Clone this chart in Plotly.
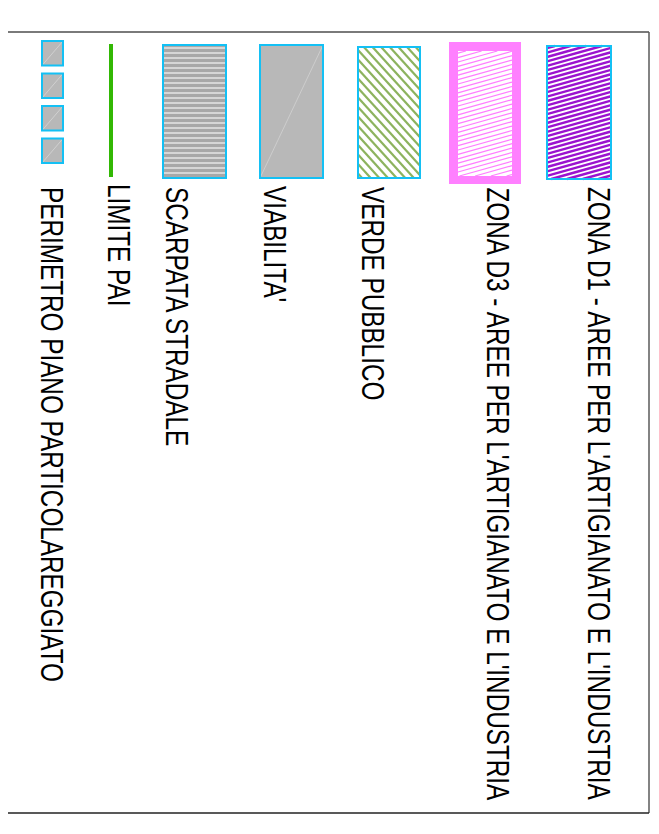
import plotly.graph_objects as go

# ---------------- data ----------------
labels = [
    "ZONA D1 - AREE PER L'ARTIGIANATO E L'INDUSTRIA",
    "ZONA D3 - AREE PER L'ARTIGIANATO E L'INDUSTRIA",
    "VERDE PUBBLICO",
    "VIABILITA'",
    "SCARPATA STRADALE",
    "LIMITE PAI",
    "PERIMETRO PIANO PARTICOLAREGGIATO",
]
kinds = ["hatch_purple", "hatch_pink", "hatch_green", "solid_gray",
         "dash_gray", "line_green", "squares"]

# ---------------- layout (page pixel space) ----------------
# the page body has an 8px margin, so the figure covers page pixels 8..651 x 8..826
OFF = 8
FW, FH = 643, 818
boxes = [  # swatch extents x0, x1, y0, y1
    (547, 611, 46, 179),
    (449, 521, 42, 184),
    (358, 420, 47, 178),
    (260, 323, 45, 178),
    (163, 226, 45, 178),
    (111, 111, 44, 177),
    (42, 63, 41, 163),
]
text_x = [599, 498.5, 372.5, 275, 176.5, 119, 51.5]
text_y = [185, 185, 185, 184, 185, 182, 185]
TEXT_STRETCH = 1.28  # glyphs in the reference are tall and narrow

CYAN = "#14c0f4"
GRAY = "#b8b8b8"

fig = go.Figure()
shapes = []


def hatch(x0, x1, y0, y1, m, step):
    xs, ys = [], []
    cs = [y - m * x for x in (x0, x1) for y in (y0, y1)]
    c, cmax = min(cs) + step / 2, max(cs)
    while c < cmax:
        a, b = x0, x1
        if m != 0:
            xa, xb = sorted(((y0 - c) / m, (y1 - c) / m))
            a, b = max(a, xa), min(b, xb)
        if b > a:
            xs += [a, b, None]
            ys += [m * a + c, m * b + c, None]
        c += step
    return xs, ys


def rect(x0, x1, y0, y1, fill=None, line=None, lw=0, layer="below"):
    shapes.append(dict(type="rect", xref="x", yref="y", x0=x0, x1=x1, y0=y0, y1=y1,
                       fillcolor=fill or "rgba(0,0,0,0)",
                       line=dict(color=line or "rgba(0,0,0,0)", width=lw),
                       layer=layer))


def add_lines(xs, ys, color, width):
    fig.add_trace(go.Scatter(x=xs, y=ys, mode="lines", hoverinfo="skip",
                             line=dict(color=color, width=width), showlegend=False))


for (x0, x1, y0, y1), kind in zip(boxes, kinds):
    if kind == "hatch_purple":
        rect(x0, x1, y0, y1, fill="white")
        xs, ys = hatch(x0, x1, y0, y1, -0.28, 4.4)
        add_lines(xs, ys, "#9b13cf", 2.4)
        rect(x0, x1, y0, y1, line=CYAN, lw=2, layer="above")
    elif kind == "hatch_pink":
        rect(x0, x1, y0, y1, fill="#ff80ff")
        ix0, ix1, iy0, iy1 = x0 + 9, x1 - 9, y0 + 9, y1 - 8
        rect(ix0, ix1, iy0, iy1, fill="white")
        xs, ys = hatch(ix0, ix1, iy0, iy1, -0.28, 4.4)
        add_lines(xs, ys, "#ff7dff", 1.2)
    elif kind == "hatch_green":
        rect(x0, x1, y0, y1, fill="white")
        xs, ys = hatch(x0, x1, y0, y1, 1.1, 9.5)
        add_lines(xs, ys, "#8db35e", 2.2)
        rect(x0, x1, y0, y1, line=CYAN, lw=2, layer="above")
    elif kind == "solid_gray":
        rect(x0, x1, y0, y1, fill=GRAY)
        add_lines([x0, x1], [y1, y0], "#d2d2d2", 0.8)
        rect(x0, x1, y0, y1, line=CYAN, lw=2, layer="above")
    elif kind == "dash_gray":
        fig.add_trace(go.Scatter(x=[x0, x1, x1, x0, x0], y=[y0, y0, y1, y1, y0],
                                 mode="none", fill="toself", fillcolor="#d6d6d6",
                                 fillpattern=dict(shape="-", fgcolor="#7a7a7a",
                                                  bgcolor="#d6d6d6", size=5, solidity=0.6),
                                 hoverinfo="skip", showlegend=False))
        rect(x0, x1, y0, y1, line=CYAN, lw=2, layer="above")
    elif kind == "line_green":
        fig.add_trace(go.Scatter(x=[x0, x1], y=[y0, y1], mode="lines", hoverinfo="skip",
                                 line=dict(color="#32b804", width=4), showlegend=False))
    elif kind == "squares":
        n = 4
        gap = 8
        hh = ((y1 - y0) - gap * (n - 1)) / n
        for k in range(n):
            sy0 = y0 + k * (hh + gap)
            sy1 = sy0 + hh
            rect(x0, x1, sy0, sy1, fill=GRAY)
            add_lines([x0, x1], [sy1, sy0], "#d6d6d6", 0.8)
            rect(x0, x1, sy0, sy1, line=CYAN, lw=2, layer="above")

# frame
shapes.append(dict(type="line", xref="x", yref="y", x0=OFF, x1=649, y0=32, y1=32,
                   line=dict(color="#7a7a7a", width=2), layer="above"))
shapes.append(dict(type="line", xref="x", yref="y", x0=649, x1=649, y0=32, y1=813,
                   line=dict(color="#5a5a5a", width=1.5), layer="above"))
shapes.append(dict(type="line", xref="x", yref="y", x0=OFF, x1=649, y0=813, y1=813,
                   line=dict(color="#222222", width=1.5), layer="above"))

annotations = []
for lab, tx, ty in zip(labels, text_x, text_y):
    annotations.append(dict(x=tx, y=ty, xref="x", yref="y", text=lab, showarrow=False,
                            textangle=90, xanchor="center", yanchor="top",
                            font=dict(family="Liberation Sans, Arial, sans-serif",
                                      size=24.3, color="black")))

fig.update_layout(
    width=FW, height=FH, margin=dict(l=0, r=0, t=0, b=0),
    paper_bgcolor="white", plot_bgcolor="white",
    xaxis=dict(range=[OFF, OFF + FW], visible=False, fixedrange=True),
    yaxis=dict(range=[OFF + FH, OFF], visible=False, fixedrange=True),
    shapes=shapes, annotations=annotations, showlegend=False,
)

stretch_js = """
try {
  var gd = document.getElementById('{plot_id}');
  gd.querySelectorAll('text.annotation-text').forEach(function(t){
    var b = t.getBBox();
    var cy = b.y + b.height / 2;
    var old = t.getAttribute('transform') || '';
    t.setAttribute('transform', old + ' translate(0,' + cy + ') scale(1,STRETCH) translate(0,' + (-cy) + ')');
  });
} catch (e) {}
""".replace("STRETCH", str(TEXT_STRETCH))

fig.write_html("out.html", post_script=stretch_js)
